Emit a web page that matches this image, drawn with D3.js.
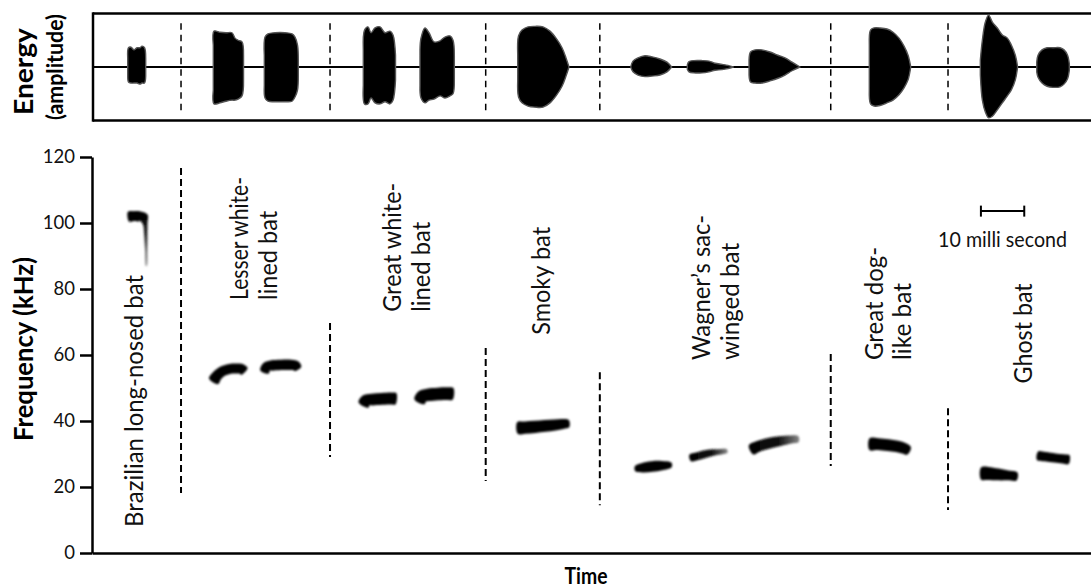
<!DOCTYPE html>
<html>
<head>
<meta charset="utf-8">
<script src="https://cdn.jsdelivr.net/npm/d3@7"></script>
<style>
  body { margin: 0; background: #fff; }
  svg { display: block; font-family: Lato, "Open Sans", sans-serif; }
</style>
</head>
<body>
<div id="chart"></div>
<script>
const width = 1091;
const height = 588;

// species labels (one entry per group, split in lines as printed)
const species = [
  ["Brazilian long-nosed bat"],
  ["Lesser white-", "lined bat"],
  ["Great white-", "lined bat"],
  ["Smoky bat"],
  ["Wagner\u2019s sac-", "winged bat"],
  ["Great dog-", "like bat"],
  ["Ghost bat"]
];

const freqTicks = [0, 20, 40, 60, 80, 100, 120];

// dashed separators between species (time in ms, frequency extent in kHz)
const sepTimes = [20.54, 54.92, 90.84, 117.17, 170.45, 197.51];
const sepTop = [116.7, 69.7, 62.1, 54.8, 60.3, 43.9];
const sepBottom = [18.2, 29.1, 21.8, 14.5, 26.4, 13.0];

// spectrogram contours: time (ms), frequency (kHz), bandwidth (kHz)
const callTimes = [
  [8.42, 9.69, 11.08, 11.88, 12.28, 12.41, 12.51, 12.53],
  [28.03, 28.84, 30.0, 31.84, 33.69, 34.61, 35.19],
  [39.8, 40.26, 41.3, 43.61, 45.92, 47.07, 47.53],
  [62.65, 63.22, 64.6, 66.91, 69.22, 70.14],
  [75.57, 76.15, 77.53, 79.84, 82.15, 83.3],
  [98.18, 99.91, 102.22, 104.53, 106.83, 108.68, 110.06],
  [125.3, 126.91, 129.21, 131.52, 133.71],
  [138.02, 139.87, 142.17, 144.48, 146.56],
  [152.06, 153.68, 155.98, 158.75, 161.29, 163.02],
  [179.4, 181.36, 183.67, 185.75, 187.36, 188.52],
  [205.12, 206.74, 209.05, 211.35, 213.43],
  [218.17, 219.9, 222.2, 224.05, 225.43]
];
const callFreqs = [
  [101.9, 102.1, 102.0, 101.7, 99.7, 96.4, 91.8, 87.0],
  [52.0, 53.7, 55.0, 55.8, 55.9, 55.7, 55.0],
  [54.8, 56.4, 56.8, 57.0, 57.0, 56.7, 55.8],
  [44.8, 46.2, 46.5, 46.7, 46.8, 46.7],
  [45.8, 47.4, 47.9, 48.2, 48.3, 48.2],
  [37.9, 38.0, 38.2, 38.5, 38.8, 39.1, 39.2],
  [25.5, 25.8, 26.2, 26.5, 26.7],
  [28.8, 29.4, 30.2, 30.6, 30.9],
  [31.2, 32.3, 33.2, 33.9, 34.4, 34.5],
  [33.0, 33.0, 32.7, 32.3, 31.7, 30.9],
  [24.1, 24.1, 23.8, 23.5, 23.2],
  [29.5, 29.2, 28.8, 28.5, 28.3]
];
const callBandwidths = [
  [3.0, 3.0, 3.0, 3.0, 1.4, 1.0, 0.7, 0.4],
  [3.2, 3.2, 3.1, 3.0, 3.0, 3.0, 2.8],
  [2.7, 3.0, 3.1, 3.1, 3.1, 3.0, 2.4],
  [3.4, 3.6, 3.6, 3.6, 3.6, 3.4],
  [3.4, 3.8, 3.8, 3.8, 3.8, 3.6],
  [3.6, 3.7, 3.7, 3.6, 3.4, 3.0, 2.2],
  [1.5, 2.8, 3.2, 2.8, 1.4],
  [2.0, 2.4, 2.2, 1.7, 1.0],
  [3.0, 3.3, 3.3, 3.0, 2.5, 1.8],
  [3.6, 3.6, 3.6, 3.5, 3.3, 2.5],
  [3.6, 4.0, 3.6, 3.0, 2.4],
  [2.6, 2.8, 2.8, 2.8, 2.7]
];

// amplitude envelopes (time in ms, relative amplitude above / below zero)
const envTimes = [
  [8.24, 8.42, 9.0, 9.69, 10.38, 11.08, 11.54, 12.12, 12.39],
  [27.99, 28.15, 29.54, 30.92, 32.30, 33.0, 33.69, 34.61, 34.96],
  [39.76, 39.92, 40.61, 42.23, 44.53, 46.15, 46.84, 47.42, 47.6],
  [62.6, 62.88, 63.69, 64.38, 65.3, 66.46, 67.61, 68.76, 69.45, 70.03],
  [75.68, 75.91, 76.83, 77.76, 78.91, 80.3, 81.45, 82.6, 83.3, 83.6],
  [98.23, 98.41, 99.22, 100.6, 102.22, 104.06, 105.68, 107.06, 108.45, 109.37, 110.06],
  [124.3, 124.83, 125.98, 127.6, 129.21, 131.05, 132.67, 133.75],
  [137.36, 137.75, 138.9, 140.75, 142.36, 143.75, 145.36, 146.75, 147.97],
  [151.6, 151.94, 152.98, 154.6, 156.44, 158.29, 159.9, 161.52, 163.36],
  [179.35, 179.63, 180.44, 181.82, 183.44, 184.82, 186.21, 187.36, 188.29, 188.91],
  [204.97, 205.43, 206.12, 206.88, 207.74, 208.89, 210.04, 211.2, 212.12, 213.04, 213.57],
  [217.98, 218.28, 219.2, 220.36, 221.74, 223.36, 224.28, 225.09, 225.5]
];
const envUpper = [
  [0.17, 0.36, 0.37, 0.32, 0.36, 0.36, 0.39, 0.36, 0.17],
  [0.41, 0.67, 0.65, 0.64, 0.64, 0.54, 0.50, 0.47, 0.22],
  [0.22, 0.56, 0.62, 0.64, 0.64, 0.62, 0.56, 0.41, 0.13],
  [0.32, 0.69, 0.75, 0.64, 0.73, 0.75, 0.64, 0.67, 0.60, 0.22],
  [0.32, 0.54, 0.73, 0.64, 0.47, 0.49, 0.56, 0.58, 0.50, 0.22],
  [0.22, 0.58, 0.69, 0.75, 0.76, 0.75, 0.67, 0.54, 0.36, 0.17, 0],
  [0, 0.11, 0.17, 0.21, 0.19, 0.15, 0.09, 0],
  [0.04, 0.10, 0.12, 0.12, 0.11, 0.07, 0.05, 0.03, 0],
  [0.13, 0.28, 0.32, 0.32, 0.28, 0.22, 0.17, 0.09, 0],
  [0.41, 0.69, 0.73, 0.73, 0.71, 0.65, 0.54, 0.39, 0.22, 0],
  [0.13, 0.50, 0.84, 0.97, 0.84, 0.73, 0.60, 0.54, 0.41, 0.22, 0],
  [0.09, 0.22, 0.32, 0.36, 0.36, 0.36, 0.32, 0.22, 0.06]
];
const envLower = [
  [-0.17, -0.28, -0.30, -0.30, -0.30, -0.32, -0.30, -0.30, -0.17],
  [-0.43, -0.69, -0.67, -0.64, -0.62, -0.62, -0.60, -0.54, -0.24],
  [-0.34, -0.58, -0.64, -0.65, -0.65, -0.64, -0.56, -0.43, -0.15],
  [-0.34, -0.69, -0.69, -0.58, -0.67, -0.69, -0.65, -0.69, -0.62, -0.24],
  [-0.34, -0.58, -0.67, -0.62, -0.60, -0.54, -0.58, -0.54, -0.50, -0.24],
  [-0.24, -0.56, -0.67, -0.73, -0.75, -0.75, -0.67, -0.54, -0.36, -0.17, 0],
  [0, -0.09, -0.15, -0.18, -0.17, -0.15, -0.09, 0],
  [-0.04, -0.09, -0.11, -0.11, -0.09, -0.06, -0.05, -0.03, 0],
  [-0.15, -0.28, -0.30, -0.30, -0.26, -0.21, -0.15, -0.07, 0],
  [-0.43, -0.69, -0.73, -0.72, -0.67, -0.62, -0.52, -0.39, -0.24, 0],
  [-0.15, -0.62, -0.84, -0.95, -0.92, -0.80, -0.67, -0.54, -0.43, -0.24, 0],
  [-0.09, -0.19, -0.30, -0.36, -0.38, -0.37, -0.32, -0.22, -0.06]
];

// 10 ms scale bar
const scaleBarStart = 205.1;
const scaleBarMs = 10;
const scaleBarFreq = 103.6;

// label anchors (ms of first baseline, kHz where the text starts) and printed lengths
const labelTime = [11.88, 36.0, 71.3, 105.68, 142.6, 182.4, 216.8];
const labelFreq = [7.9, 76.7, 73.1, 66.1, 58.5, 58.5, 51.4];
const labelLength = [[252], [123, 89], [129, 90], [108], [145, 117], [113, 77], [100]];
const lineGap = 28.5;

const x = d3.scaleLinear().domain([0, 230.5]).range([92, 1091]);
const y = d3.scaleLinear().domain([0, 120]).range([553, 157]);
const yAmp = d3.scaleLinear().domain([-1, 1]).range([120.5, 13.5]);

const svg = d3.select("#chart")
  .append("svg")
  .attr("width", width)
  .attr("height", height);

const defs = svg.append("defs");
defs.append("filter").attr("id", "soft")
  .attr("x", "-20%").attr("y", "-20%").attr("width", "140%").attr("height", "140%")
  .append("feGaussianBlur").attr("stdDeviation", 0.8);

const tailFade = defs.append("linearGradient")
  .attr("id", "tailFade")
  .attr("gradientUnits", "userSpaceOnUse")
  .attr("x1", 0).attr("x2", 0)
  .attr("y1", y(102)).attr("y2", y(86));
tailFade.append("stop").attr("offset", "0%").attr("stop-color", "#000");
tailFade.append("stop").attr("offset", "45%").attr("stop-color", "#333");
tailFade.append("stop").attr("offset", "100%").attr("stop-color", "#bbb");

const rightFade = defs.append("linearGradient")
  .attr("id", "rightFade")
  .attr("x1", 0).attr("x2", 1).attr("y1", 0).attr("y2", 0);
rightFade.append("stop").attr("offset", "0%").attr("stop-color", "#000");
rightFade.append("stop").attr("offset", "60%").attr("stop-color", "#111");
rightFade.append("stop").attr("offset", "100%").attr("stop-color", "#888");

// ---- top panel: amplitude ----
const energy = svg.append("g").attr("class", "energy");

energy.append("line")
  .attr("x1", x(0) + 1).attr("x2", width)
  .attr("y1", yAmp(1)).attr("y2", yAmp(1))
  .attr("stroke", "#000").attr("stroke-width", 2.5);
energy.append("line")
  .attr("x1", x(0) + 1).attr("x2", width)
  .attr("y1", yAmp(-1)).attr("y2", yAmp(-1))
  .attr("stroke", "#000").attr("stroke-width", 2.5);
energy.append("line")
  .attr("x1", x(0) + 1).attr("x2", x(0) + 1)
  .attr("y1", yAmp(1) - 1.2).attr("y2", yAmp(-1) + 1.2)
  .attr("stroke", "#000").attr("stroke-width", 2.5);
energy.append("line")
  .attr("x1", x(0)).attr("x2", width)
  .attr("y1", yAmp(0)).attr("y2", yAmp(0))
  .attr("stroke", "#000").attr("stroke-width", 2);

energy.selectAll(".sep")
  .data(sepTimes)
  .enter()
  .append("line")
  .attr("class", "sep")
  .attr("x1", d => x(d)).attr("x2", d => x(d))
  .attr("y1", yAmp(0.82)).attr("y2", yAmp(-0.82))
  .attr("stroke", "#000")
  .attr("stroke-width", 1.5)
  .attr("stroke-dasharray", "6.5,5");

const envArea = d3.area()
  .x(d => x(d[0]))
  .y0(d => yAmp(d[2]))
  .y1(d => yAmp(d[1]))
  .curve(d3.curveCatmullRom);

energy.selectAll(".env")
  .data(envTimes.map((ts, i) => ts.map((t, j) => [t, envUpper[i][j], envLower[i][j]])))
  .enter()
  .append("path")
  .attr("class", "env")
  .attr("d", envArea)
  .attr("fill", "#000")
  .attr("stroke", "#555")
  .attr("stroke-width", 1.4)
  .attr("stroke-linejoin", "round");

// ---- bottom panel: spectrogram ----
const chart = svg.append("g").attr("class", "spectro");

chart.selectAll(".sep")
  .data(sepTimes)
  .enter()
  .append("line")
  .attr("class", "sep")
  .attr("x1", d => x(d)).attr("x2", d => x(d))
  .attr("y1", (d, i) => y(sepTop[i]))
  .attr("y2", (d, i) => y(sepBottom[i]))
  .attr("stroke", "#000")
  .attr("stroke-width", 2)
  .attr("stroke-dasharray", "7,4");

function ribbon(ts, fs, bws) {
  const pts = ts.map((t, i) => [x(t), y(fs[i])]);
  const half = bws.map(b => (y(0) - y(b)) / 2);
  const left = [];
  const right = [];
  pts.forEach((p, i) => {
    const a = pts[Math.max(0, i - 1)];
    const b = pts[Math.min(pts.length - 1, i + 1)];
    const dx = b[0] - a[0];
    const dy = b[1] - a[1];
    const len = Math.hypot(dx, dy) || 1;
    const nx = -dy / len;
    const ny = dx / len;
    left.push([p[0] + nx * half[i], p[1] + ny * half[i]]);
    right.push([p[0] - nx * half[i], p[1] - ny * half[i]]);
  });
  return d3.line().curve(d3.curveCatmullRomClosed)(left.concat(right.reverse()));
}

function callFill(i) {
  if (i === 0) return "url(#tailFade)";
  if (i === 7 || i === 8) return "url(#rightFade)";
  return "#000";
}

chart.selectAll(".call")
  .data(callTimes)
  .enter()
  .append("path")
  .attr("class", "call")
  .attr("d", (d, i) => ribbon(d, callFreqs[i], callBandwidths[i]))
  .attr("fill", (d, i) => callFill(i))
  .attr("filter", "url(#soft)");

// axes
const yAxis = d3.axisLeft(y)
  .tickValues(freqTicks)
  .tickSize(12)
  .tickSizeOuter(0)
  .tickPadding(5);

const yg = chart.append("g")
  .attr("transform", `translate(${x(0)},0)`)
  .call(yAxis);
yg.select(".domain").attr("stroke-width", 2.5);
yg.selectAll(".tick line").attr("stroke-width", 2.5);
yg.selectAll(".tick text")
  .attr("font-family", "Lato, sans-serif")
  .attr("font-size", 18.5)
  .attr("fill", "#111");

const xAxis = d3.axisBottom(x).tickValues([]).tickSizeOuter(0);
const xg = chart.append("g")
  .attr("transform", `translate(0,${y(0)})`)
  .call(xAxis);
xg.select(".domain").attr("stroke-width", 2.5);

// species labels
const labels = chart.selectAll(".label")
  .data(species)
  .enter()
  .append("g")
  .attr("class", "label")
  .attr("transform", (d, i) => `translate(${x(labelTime[i])},${y(labelFreq[i])}) rotate(-90)`);

labels.each(function(lines, i) {
  d3.select(this).selectAll("text")
    .data(lines)
    .enter()
    .append("text")
    .attr("x", 0)
    .attr("y", (d, j) => j * lineGap)
    .attr("font-size", 25)
    .attr("fill", "#111")
    .attr("textLength", (d, j) => labelLength[i][j])
    .attr("lengthAdjust", "spacingAndGlyphs")
    .text(d => d);
});

// scale bar
const bar = chart.append("g").attr("class", "scale-bar");
const barY = y(scaleBarFreq);
bar.append("line")
  .attr("x1", x(scaleBarStart)).attr("x2", x(scaleBarStart + scaleBarMs))
  .attr("y1", barY).attr("y2", barY)
  .attr("stroke", "#000").attr("stroke-width", 2);
bar.selectAll(".end")
  .data([scaleBarStart, scaleBarStart + scaleBarMs])
  .enter()
  .append("line")
  .attr("class", "end")
  .attr("x1", d => x(d)).attr("x2", d => x(d))
  .attr("y1", barY - 5.5).attr("y2", barY + 5.5)
  .attr("stroke", "#000").attr("stroke-width", 2);
bar.append("text")
  .attr("x", x(scaleBarStart + scaleBarMs / 2))
  .attr("y", barY + 36)
  .attr("text-anchor", "middle")
  .attr("font-size", 22)
  .attr("fill", "#111")
  .attr("textLength", 129)
  .attr("lengthAdjust", "spacingAndGlyphs")
  .text("10 milli second");

// axis titles
svg.append("text")
  .attr("transform", `translate(33,${(y(120) + y(0)) / 2 - 6}) rotate(-90)`)
  .attr("text-anchor", "middle")
  .attr("font-weight", "bold")
  .attr("font-size", 27)
  .attr("textLength", 184)
  .attr("lengthAdjust", "spacingAndGlyphs")
  .text("Frequency (kHz)");

svg.append("text")
  .attr("transform", `translate(33,${yAmp(0) + 4.5}) rotate(-90)`)
  .attr("text-anchor", "middle")
  .attr("font-weight", "bold")
  .attr("font-size", 27)
  .attr("textLength", 87)
  .attr("lengthAdjust", "spacingAndGlyphs")
  .text("Energy");

svg.append("text")
  .attr("transform", `translate(63,${yAmp(0)}) rotate(-90)`)
  .attr("text-anchor", "middle")
  .attr("font-weight", "bold")
  .attr("font-size", 22)
  .attr("textLength", 106)
  .attr("lengthAdjust", "spacingAndGlyphs")
  .text("(amplitude)");

svg.append("text")
  .attr("x", (x.range()[0] + 1080) / 2)
  .attr("y", 584)
  .attr("text-anchor", "middle")
  .attr("font-weight", "bold")
  .attr("font-size", 22)
  .attr("textLength", 43)
  .attr("lengthAdjust", "spacingAndGlyphs")
  .text("Time");
</script>
</body>
</html>
